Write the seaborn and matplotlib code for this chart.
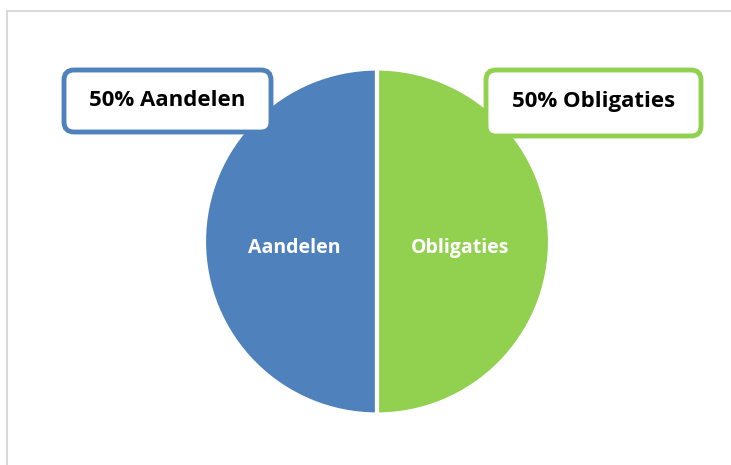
import matplotlib.pyplot as plt
import seaborn as sns
from matplotlib.patches import FancyBboxPatch, Rectangle

# data
categories = ['Aandelen', 'Obligaties']
shares = [50, 50]
box_labels = ['50% Aandelen', '50% Obligaties']
colors = ['#4F81BD', '#92D050']

sns.set_theme(style='white')
plt.rcParams['font.family'] = ['Open Sans', 'DejaVu Sans']

W, H = 731, 465
fig = plt.figure(figsize=(W / 100, H / 100), dpi=100)
fig.patch.set_facecolor('white')
inch = fig.dpi_scale_trans

# chart area border (only top/left visible)
fig.add_artist(Rectangle((7 / W, -0.1), 1.2, (H - 11) / H + 0.1, transform=fig.transFigure,
                         fill=False, edgecolor='#D9D9D9', linewidth=1.5))

# pie axes: center (377, 241.5), radius 173 px
r = 173
cx, cy = 377, 241.5
ax = fig.add_axes([(cx - r) / W, (H - cy - r) / H, 2 * r / W, 2 * r / H])
wedges, texts = ax.pie(shares, labels=categories, colors=colors, startangle=90,
                       labeldistance=0.48,
                       wedgeprops=dict(edgecolor='white', linewidth=3),
                       textprops=dict(color='white', fontsize=14, fontweight='bold'))
for t in texts:
    t.set_ha('center')
    t.set_va('center')
    x, y = t.get_position()
    t.set_position((x, y - 0.04))
ax.set_xlim(-1.0, 1.0)
ax.set_ylim(-1.0, 1.0)
ax.axis('off')

# callout boxes (pixel extents: x0, x1, y0, y1)
boxes = [(64, 271, 70, 132), (486, 701, 70, 136)]
for (x0, x1, y0, y1), lab, col in zip(boxes, box_labels, colors):
    fig.add_artist(FancyBboxPatch((x0 / 100, (H - y1) / 100), (x1 - x0) / 100, (y1 - y0) / 100,
                                  boxstyle='round,pad=0,rounding_size=0.1',
                                  transform=inch, facecolor='white',
                                  edgecolor=col, linewidth=3.5, zorder=5))
    fig.text((x0 + x1) / 2 / W, (H - 101) / H, lab, ha='center', va='center',
             fontsize=16, fontweight='bold', color='black', zorder=6)

fig.savefig('out.png', dpi=100)
